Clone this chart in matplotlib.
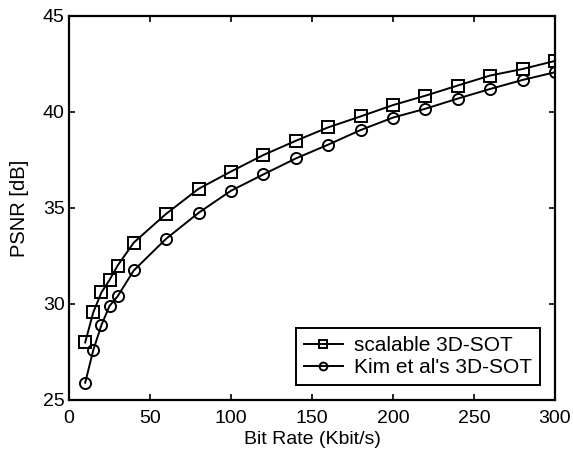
import matplotlib
matplotlib.use("Agg")
import matplotlib.pyplot as plt

plt.rcParams['font.family'] = ['Liberation Sans', 'DejaVu Sans']

bit_rate = [10, 15, 20, 25, 30, 40, 60, 80, 100, 120, 140, 160, 180, 200, 220, 240, 260, 280, 300]
psnr_scalable = [28.0, 29.57, 30.6, 31.25, 32.0, 33.2, 34.7, 36.0, 36.9, 37.76, 38.5, 39.2, 39.77,
                 40.36, 40.85, 41.38, 41.9, 42.24, 42.66]
psnr_kim = [25.9, 27.6, 28.9, 29.9, 30.4, 31.75, 33.4, 34.75, 35.9, 36.75, 37.58, 38.3, 39.06,
            39.71, 40.17, 40.7, 41.2, 41.67, 42.07]
x_ticks = [0, 50, 100, 150, 200, 250, 300]
y_ticks = [25, 30, 35, 40, 45]

fig = plt.figure(figsize=(5.73, 4.55), dpi=100)
ax = fig.add_axes([69/573, 1-400/455, (555-69)/573, (400-16)/455])

ax.plot(bit_rate, psnr_scalable, color='black', lw=1.4, marker='s', markersize=9,
        markerfacecolor='none', markeredgewidth=1.4, label='scalable 3D-SOT')
ax.plot(bit_rate, psnr_kim, color='black', lw=1.4, marker='o', markersize=8,
        markerfacecolor='none', markeredgewidth=1.4, label="Kim et al's 3D-SOT")

ax.set_xlim(0, 300)
ax.set_ylim(25, 45)
ax.set_xticks(x_ticks)
ax.set_yticks(y_ticks)
ax.tick_params(direction='in', top=True, right=True, length=4, width=1.2, labelsize=14)
ax.tick_params(axis='x', pad=7)
ax.tick_params(axis='y', pad=3)
for s in ax.spines.values():
    s.set_linewidth(1.6)
ax.set_xlabel('Bit Rate (Kbit/s)', fontsize=14, labelpad=3)
ax.set_ylabel('PSNR [dB]', fontsize=14.5, labelpad=10)

leg = ax.legend(loc='lower right', fontsize=15, frameon=True, fancybox=False,
                edgecolor='black', framealpha=1, handlelength=1.85, handletextpad=0.55,
                borderaxespad=0.7, borderpad=0.4, labelspacing=0.15,
                markerscale=0.7)
leg.get_frame().set_linewidth(1.4)

fig.savefig('out.png', dpi=100)
